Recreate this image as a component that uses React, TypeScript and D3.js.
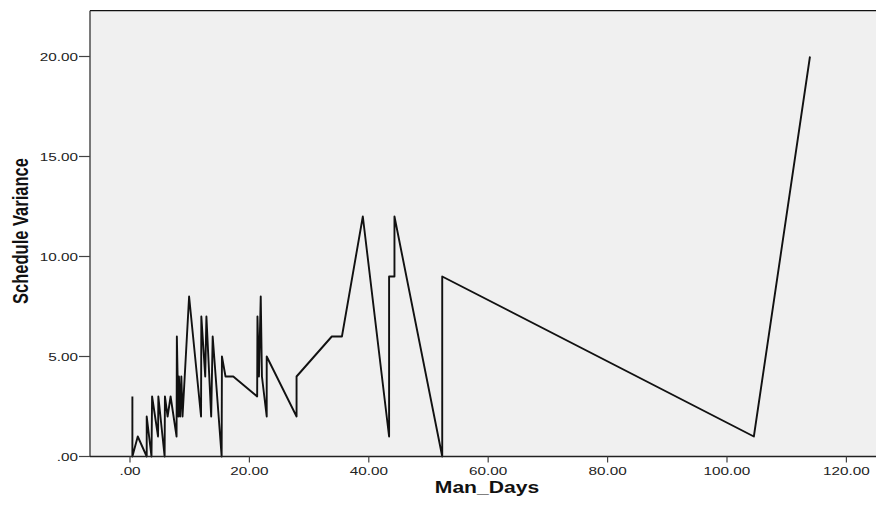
import React, { useMemo } from "react";
import * as d3 from "d3";

// Man_Days (x) and Schedule Variance (y), in the order the line joins them
const manDays = [
  0.4, 0.4, 1.3, 2.8, 2.8, 3.6, 3.7, 4.7, 4.75, 5.8, 5.85, 6.3, 6.8, 7.8, 7.85,
  8.1, 8.2, 8.4, 8.6, 8.8, 9.9, 11.9, 11.95, 12.6, 12.8, 13.6, 13.85,
  15.35, 15.4, 16.0, 17.3, 21.3, 21.35, 21.6, 21.9, 22.1, 22.9, 22.9, 27.9,
  27.9, 33.8, 35.5, 39.0, 43.4, 43.4, 44.3, 44.3, 52.3, 52.3, 104.5, 113.9,
];
const scheduleVariance = [
  3, 0, 1, 0, 2, 0, 3, 1, 3, 0, 3, 2, 3, 1, 6,
  2, 4, 2, 4, 2, 8, 2, 7, 4, 7, 2, 6,
  0, 5, 4, 4, 3, 7, 4, 8, 4, 2, 5, 2,
  4, 6, 6, 12, 1, 9, 9, 12, 0, 9, 1, 20,
];

const xTicks = [0, 20, 40, 60, 80, 100, 120];
const yTicks = [0, 5, 10, 15, 20];
const xTitle = "Man_Days";
const yTitle = "Schedule Variance";

const WIDTH = 876;
const HEIGHT = 506;
const LEFT = 90;
const TOP = 10.7;
const BOTTOM = 456.5;
const RIGHT = 876;
const SX = 1.33; // the source picture is stretched sideways
const FONT = "'Liberation Sans', Arial, sans-serif";

const fmt = (v: number) => (v === 0 ? ".00" : v.toFixed(2));

export default function App() {
  const x = useMemo(
    () => d3.scaleLinear().domain([-6.7, 124.96]).range([LEFT, RIGHT]),
    []
  );
  const y = useMemo(
    () => d3.scaleLinear().domain([0, 22.29]).range([BOTTOM, TOP]),
    []
  );

  const points: [number, number][] = manDays.map((d, i) => [d, scheduleVariance[i]]);
  const linePath = d3
    .line<[number, number]>()
    .x((d) => x(d[0]))
    .y((d) => y(d[1]))(points);

  return (
    <svg
      width={WIDTH}
      height={HEIGHT}
      style={{ position: "absolute", left: 0, top: 0, background: "#fff" }}
    >
      <rect x={LEFT} y={TOP} width={RIGHT - LEFT} height={BOTTOM - TOP} fill="#f0f0f0" />
      <line x1={LEFT} x2={RIGHT} y1={TOP} y2={TOP} stroke="#111" strokeWidth={1.2} />

      <path
        d={linePath ?? ""}
        fill="none"
        stroke="#111"
        strokeWidth={1.9}
        strokeLinejoin="round"
      />

      {/* y axis */}
      <line x1={LEFT} x2={LEFT} y1={TOP} y2={BOTTOM} stroke="#333" strokeWidth={1.3} />
      {yTicks.map((t) => (
        <g key={"y" + t}>
          <line x1={LEFT - 11} x2={LEFT} y1={y(t)} y2={y(t)} stroke="#444" strokeWidth={1.2} />
          <text
            transform={`translate(${LEFT - 12},${y(t) + 4}) scale(${SX},1)`}
            textAnchor="end"
            fontFamily={FONT}
            fontSize={11.5}
            fill="#222"
          >
            {fmt(t)}
          </text>
        </g>
      ))}

      {/* x axis */}
      <line x1={LEFT} x2={RIGHT} y1={BOTTOM} y2={BOTTOM} stroke="#222" strokeWidth={1.3} />
      {xTicks.map((t) => (
        <g key={"x" + t}>
          <line x1={x(t)} x2={x(t)} y1={BOTTOM} y2={BOTTOM + 6} stroke="#444" strokeWidth={1.2} />
          <text
            transform={`translate(${x(t)},${BOTTOM + 18.5}) scale(${SX},1)`}
            textAnchor="middle"
            fontFamily={FONT}
            fontSize={11.5}
            fill="#222"
          >
            {fmt(t)}
          </text>
        </g>
      ))}

      <text
        transform={`translate(487,493) scale(${SX - 0.05},1)`}
        textAnchor="middle"
        fontFamily={FONT}
        fontWeight="bold"
        fontSize={16.5}
        fill="#111"
      >
        {xTitle}
      </text>
      <text
        transform={`translate(28,231) scale(${SX},1) rotate(-90)`}
        textAnchor="middle"
        fontFamily={FONT}
        fontWeight="bold"
        fontSize={16.5}
        fill="#111"
      >
        {yTitle}
      </text>
    </svg>
  );
}
